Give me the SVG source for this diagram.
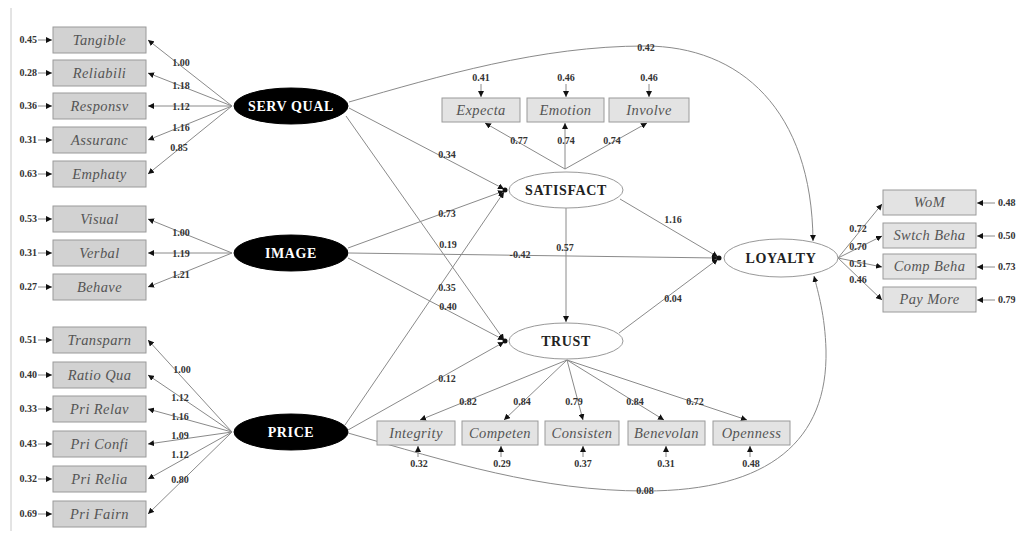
<svg xmlns="http://www.w3.org/2000/svg" width="1019" height="539" viewBox="0 0 1019 539">
<defs>
<marker id="ah" viewBox="0 0 8 8" refX="8" refY="4" markerWidth="6" markerHeight="6" markerUnits="userSpaceOnUse" orient="auto">
<path d="M0,0 L8,4 L0,8 Z" fill="#111"/>
</marker>
<style>
.ln{stroke:#8a8a8a;stroke-width:1;fill:none}
.ar{stroke:#8a8a8a;stroke-width:1;fill:none;marker-end:url(#ah)}
.obsL{fill:#d2d2d2;stroke:#9a9a9a;stroke-width:1}
.obs{fill:#e3e3e3;stroke:#9a9a9a;stroke-width:1}
.ot{font-family:"Liberation Serif",serif;font-style:italic;font-size:14.5px;fill:#555;text-anchor:middle;letter-spacing:0.4px}
.num{font-family:"Liberation Serif",serif;font-weight:bold;font-size:10px;fill:#333;text-anchor:middle}
.lat{fill:#000;stroke:#000}
.lt{font-family:"Liberation Serif",serif;font-weight:bold;font-size:14px;fill:#fff;text-anchor:middle;letter-spacing:0.6px}
.end{fill:#fff;stroke:#999;stroke-width:1}
.et{font-family:"Liberation Serif",serif;font-weight:bold;font-size:14px;fill:#222;text-anchor:middle;letter-spacing:0.6px}
.dot{fill:#111}
.st{text-anchor:start}
.en{text-anchor:end}
</style>
</defs>
<rect width="1019" height="539" fill="#fff"/>
<line x1="11" y1="8" x2="11" y2="531" stroke="#c8c8c8" stroke-width="1"/>

<g id="connectors">
<line class="ar" x1="232" y1="106" x2="148" y2="40"/>
<line class="ar" x1="232" y1="106" x2="148" y2="73"/>
<line class="ar" x1="232" y1="106" x2="148" y2="106"/>
<line class="ar" x1="232" y1="106" x2="148" y2="140"/>
<line class="ar" x1="232" y1="106" x2="148" y2="174"/>
<line class="ar" x1="232" y1="253" x2="148" y2="219"/>
<line class="ar" x1="232" y1="253" x2="148" y2="253"/>
<line class="ar" x1="232" y1="253" x2="148" y2="287"/>
<line class="ar" x1="232" y1="432" x2="148" y2="340"/>
<line class="ar" x1="232" y1="432" x2="148" y2="375"/>
<line class="ar" x1="232" y1="432" x2="148" y2="409"/>
<line class="ar" x1="232" y1="432" x2="148" y2="444"/>
<line class="ar" x1="232" y1="432" x2="148" y2="479"/>
<line class="ar" x1="232" y1="432" x2="148" y2="514"/>
<line class="ar" x1="38" y1="40" x2="52" y2="40"/>
<line class="ar" x1="38" y1="73" x2="52" y2="73"/>
<line class="ar" x1="38" y1="106" x2="52" y2="106"/>
<line class="ar" x1="38" y1="140" x2="52" y2="140"/>
<line class="ar" x1="38" y1="174" x2="52" y2="174"/>
<line class="ar" x1="38" y1="219" x2="52" y2="219"/>
<line class="ar" x1="38" y1="253" x2="52" y2="253"/>
<line class="ar" x1="38" y1="287" x2="52" y2="287"/>
<line class="ar" x1="38" y1="340" x2="52" y2="340"/>
<line class="ar" x1="38" y1="375" x2="52" y2="375"/>
<line class="ar" x1="38" y1="409" x2="52" y2="409"/>
<line class="ar" x1="38" y1="444" x2="52" y2="444"/>
<line class="ar" x1="38" y1="479" x2="52" y2="479"/>
<line class="ar" x1="38" y1="514" x2="52" y2="514"/>
<line class="ar" x1="349" y1="108" x2="504" y2="189"/>
<line class="ar" x1="346" y1="116" x2="504" y2="340"/>
<line class="ar" x1="348" y1="248" x2="504" y2="191"/>
<line class="ar" x1="349" y1="253" x2="718" y2="258"/>
<line class="ar" x1="348" y1="258" x2="504" y2="340"/>
<line class="ar" x1="345" y1="425" x2="504" y2="192"/>
<line class="ar" x1="348" y1="430" x2="504" y2="342"/>
<line class="ar" x1="566" y1="208" x2="566" y2="322"/>
<line class="ar" x1="620" y1="199" x2="718" y2="257"/>
<line class="ar" x1="619" y1="333" x2="718" y2="259"/>
<path class="ar" d="M349,102 C440,76 540,46 645,46 C740,46 812,110 813,241"/>
<path class="ar" d="M348,433 C450,462 540,491 645,491 C770,491 828,440 826,350 C825,315 818,292 814,276"/>
<line class="ar" x1="565" y1="169" x2="485" y2="123"/>
<line class="ar" x1="565" y1="169" x2="565" y2="123"/>
<line class="ar" x1="565" y1="169" x2="647" y2="123"/>
<line class="ar" x1="481" y1="84" x2="481" y2="97"/>
<line class="ar" x1="566" y1="84" x2="566" y2="97"/>
<line class="ar" x1="649" y1="84" x2="649" y2="97"/>
<line class="ar" x1="567" y1="360" x2="420" y2="420"/>
<line class="ar" x1="567" y1="360" x2="504" y2="420"/>
<line class="ar" x1="567" y1="360" x2="583" y2="420"/>
<line class="ar" x1="567" y1="360" x2="664" y2="420"/>
<line class="ar" x1="567" y1="360" x2="747" y2="420"/>
<line class="ar" x1="418" y1="457" x2="418" y2="446"/>
<line class="ar" x1="501" y1="457" x2="501" y2="446"/>
<line class="ar" x1="583" y1="457" x2="583" y2="446"/>
<line class="ar" x1="666" y1="457" x2="666" y2="446"/>
<line class="ar" x1="750" y1="457" x2="750" y2="446"/>
<line class="ar" x1="838" y1="258" x2="882" y2="204"/>
<line class="ar" x1="838" y1="258" x2="882" y2="236"/>
<line class="ar" x1="838" y1="258" x2="882" y2="267"/>
<line class="ar" x1="838" y1="258" x2="882" y2="300"/>
<line class="ar" x1="995" y1="203" x2="977" y2="203"/>
<line class="ar" x1="995" y1="236" x2="977" y2="236"/>
<line class="ar" x1="995" y1="267" x2="977" y2="267"/>
<line class="ar" x1="995" y1="300" x2="977" y2="300"/>
</g>

<g id="labels">
<text class="num" x="181" y="66">1.00</text>
<text class="num" x="181" y="89">1.18</text>
<text class="num" x="181" y="110">1.12</text>
<text class="num" x="181" y="131">1.16</text>
<text class="num" x="179" y="151">0.85</text>
<text class="num" x="181" y="236">1.00</text>
<text class="num" x="181" y="257">1.19</text>
<text class="num" x="181" y="278">1.21</text>
<text class="num" x="182" y="373">1.00</text>
<text class="num" x="180" y="401">1.12</text>
<text class="num" x="180" y="420">1.16</text>
<text class="num" x="180" y="439">1.09</text>
<text class="num" x="180" y="458">1.12</text>
<text class="num" x="180" y="483">0.80</text>
<text class="num en" x="37" y="43">0.45</text>
<text class="num en" x="37" y="76">0.28</text>
<text class="num en" x="37" y="109">0.36</text>
<text class="num en" x="37" y="143">0.31</text>
<text class="num en" x="37" y="177">0.63</text>
<text class="num en" x="37" y="222">0.53</text>
<text class="num en" x="37" y="256">0.31</text>
<text class="num en" x="37" y="290">0.27</text>
<text class="num en" x="37" y="343">0.51</text>
<text class="num en" x="37" y="378">0.40</text>
<text class="num en" x="37" y="412">0.33</text>
<text class="num en" x="37" y="447">0.43</text>
<text class="num en" x="37" y="482">0.32</text>
<text class="num en" x="37" y="517">0.69</text>
<text class="num" x="447" y="158">0.34</text>
<text class="num" x="447" y="217">0.73</text>
<text class="num" x="448" y="248">0.19</text>
<text class="num" x="520" y="258">-0.42</text>
<text class="num" x="447" y="291">0.35</text>
<text class="num" x="448" y="310">0.40</text>
<text class="num" x="447" y="382">0.12</text>
<text class="num" x="565" y="251">0.57</text>
<text class="num" x="673" y="223">1.16</text>
<text class="num" x="673" y="302">0.04</text>
<text class="num" x="646" y="51">0.42</text>
<text class="num" x="645" y="494">0.08</text>
<text class="num" x="519" y="144">0.77</text>
<text class="num" x="566" y="144">0.74</text>
<text class="num" x="612" y="144">0.74</text>
<text class="num" x="481" y="81">0.41</text>
<text class="num" x="566" y="81">0.46</text>
<text class="num" x="649" y="81">0.46</text>
<text class="num" x="468" y="405">0.82</text>
<text class="num" x="522" y="405">0.84</text>
<text class="num" x="574" y="405">0.79</text>
<text class="num" x="635" y="405">0.84</text>
<text class="num" x="695" y="405">0.72</text>
<text class="num" x="419" y="467">0.32</text>
<text class="num" x="502" y="467">0.29</text>
<text class="num" x="583" y="467">0.37</text>
<text class="num" x="666" y="467">0.31</text>
<text class="num" x="751" y="467">0.48</text>
<text class="num" x="858" y="232">0.72</text>
<text class="num" x="858" y="250">0.70</text>
<text class="num" x="858" y="267">0.51</text>
<text class="num" x="858" y="283">0.46</text>
<text class="num st" x="998" y="206">0.48</text>
<text class="num st" x="998" y="239">0.50</text>
<text class="num st" x="998" y="270">0.73</text>
<text class="num st" x="998" y="303">0.79</text>
</g>

<g id="Tangible"><rect class="obsL" x="53" y="27" width="93" height="26"/><text class="ot" x="99.5" y="45">Tangible</text></g>
<g id="Reliabili"><rect class="obsL" x="53" y="60" width="93" height="26"/><text class="ot" x="99.5" y="78">Reliabili</text></g>
<g id="Responsv"><rect class="obsL" x="53" y="93" width="93" height="26"/><text class="ot" x="99.5" y="111">Responsv</text></g>
<g id="Assuranc"><rect class="obsL" x="53" y="127" width="93" height="26"/><text class="ot" x="99.5" y="145">Assuranc</text></g>
<g id="Emphaty"><rect class="obsL" x="53" y="161" width="93" height="26"/><text class="ot" x="99.5" y="179">Emphaty</text></g>
<g id="Visual"><rect class="obsL" x="53" y="206" width="93" height="26"/><text class="ot" x="99.5" y="224">Visual</text></g>
<g id="Verbal"><rect class="obsL" x="53" y="240" width="93" height="26"/><text class="ot" x="99.5" y="258">Verbal</text></g>
<g id="Behave"><rect class="obsL" x="53" y="274" width="93" height="26"/><text class="ot" x="99.5" y="292">Behave</text></g>
<g id="Transparn"><rect class="obsL" x="53" y="327" width="93" height="26"/><text class="ot" x="99.5" y="345">Transparn</text></g>
<g id="RatioQua"><rect class="obsL" x="53" y="362" width="93" height="26"/><text class="ot" x="99.5" y="380">Ratio Qua</text></g>
<g id="PriRelav"><rect class="obsL" x="53" y="396" width="93" height="26"/><text class="ot" x="99.5" y="414">Pri Relav</text></g>
<g id="PriConfi"><rect class="obsL" x="53" y="431" width="93" height="26"/><text class="ot" x="99.5" y="449">Pri Confi</text></g>
<g id="PriRelia"><rect class="obsL" x="53" y="466" width="93" height="26"/><text class="ot" x="99.5" y="484">Pri Relia</text></g>
<g id="PriFairn"><rect class="obsL" x="53" y="501" width="93" height="26"/><text class="ot" x="99.5" y="519">Pri Fairn</text></g>

<g id="Expecta"><rect class="obs" x="442" y="98" width="78" height="24"/><text class="ot" x="481" y="115">Expecta</text></g>
<g id="Emotion"><rect class="obs" x="527" y="98" width="77" height="24"/><text class="ot" x="565.5" y="115">Emotion</text></g>
<g id="Involve"><rect class="obs" x="609" y="98" width="80" height="24"/><text class="ot" x="649" y="115">Involve</text></g>

<g id="Integrity"><rect class="obs" x="377" y="421" width="78" height="24"/><text class="ot" x="416" y="438">Integrity</text></g>
<g id="Competen"><rect class="obs" x="462" y="421" width="76" height="24"/><text class="ot" x="500" y="438">Competen</text></g>
<g id="Consisten"><rect class="obs" x="545" y="421" width="74" height="24"/><text class="ot" x="582" y="438">Consisten</text></g>
<g id="Benevolan"><rect class="obs" x="628" y="421" width="77" height="24"/><text class="ot" x="666.5" y="438">Benevolan</text></g>
<g id="Openness"><rect class="obs" x="713" y="421" width="77" height="24"/><text class="ot" x="751.5" y="438">Openness</text></g>

<g id="WoM"><rect class="obs" x="883" y="190" width="93" height="25"/><text class="ot" x="929.5" y="207">WoM</text></g>
<g id="SwtchBeha"><rect class="obs" x="883" y="223" width="93" height="25"/><text class="ot" x="929.5" y="240">Swtch Beha</text></g>
<g id="CompBeha"><rect class="obs" x="883" y="254" width="93" height="25"/><text class="ot" x="929.5" y="271">Comp Beha</text></g>
<g id="PayMore"><rect class="obs" x="883" y="287" width="93" height="25"/><text class="ot" x="929.5" y="304">Pay  More</text></g>

<g id="SERVQUAL"><ellipse class="lat" cx="291" cy="106" rx="57" ry="18"/><text class="lt" x="291" y="111">SERV QUAL</text></g>
<g id="IMAGE"><ellipse class="lat" cx="291" cy="253" rx="57" ry="18"/><text class="lt" x="291" y="258">IMAGE</text></g>
<g id="PRICE"><ellipse class="lat" cx="291" cy="432" rx="57" ry="18"/><text class="lt" x="291" y="437">PRICE</text></g>

<g id="SATISFACT"><ellipse class="end" cx="566" cy="190" rx="57" ry="18"/><text class="et" x="566" y="195">SATISFACT</text><circle class="dot" cx="505" cy="190" r="2.5"/></g>
<g id="TRUST"><ellipse class="end" cx="566" cy="341" rx="57" ry="18"/><text class="et" x="566" y="346">TRUST</text><circle class="dot" cx="505" cy="341" r="2.5"/></g>
<g id="LOYALTY"><ellipse class="end" cx="781" cy="258" rx="57" ry="19"/><text class="et" x="781" y="263">LOYALTY</text><circle class="dot" cx="719" cy="258" r="2.5"/></g>
</svg>
